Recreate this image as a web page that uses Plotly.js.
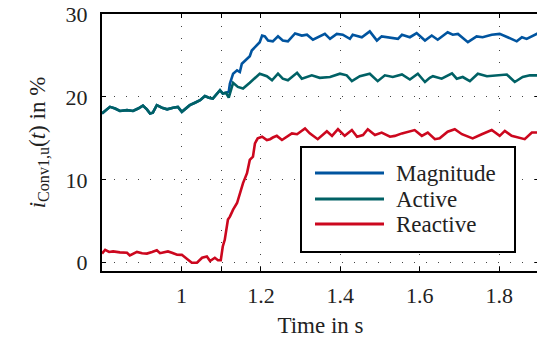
<!DOCTYPE html>
<html>
<head>
<meta charset="utf-8">
<script src="https://cdn.plot.ly/plotly-3.0.1.min.js"></script>
<style>
html,body{margin:0;padding:0;overflow:hidden;background:#fff;}
#chart{width:539px;height:338px;}
</style>
</head>
<body>
<div id="chart"></div>
<script>
// Magnitude (time in s, value in %)
const tMag = [0.800,0.805,0.820,0.833,0.845,0.863,0.878,0.891,0.903,0.913,0.921,0.928,0.938,0.951,0.964,0.979,0.991,1.001,1.011,1.021,1.034,1.047,1.059,1.069,1.079,1.089,1.097,1.104,1.112,1.119,
  1.122,1.130,1.140,1.147,1.152,1.165,1.172,1.177,1.190,1.197,1.203,1.210,1.218,1.230,1.243,1.255,1.268,1.286,1.303,1.316,1.331,1.343,1.361,1.374,1.391,1.406,1.424,1.431,1.454,1.474,1.492,1.504,1.525,1.545,1.555,1.575,1.592,1.613,1.630,1.645,1.670,1.683,1.696,1.721,1.743,1.758,1.781,1.801,1.821,1.844,1.857,1.869,1.894,1.899];
const vMag = [18.0,18.2,18.8,18.6,18.3,18.4,18.3,18.6,18.95,18.5,18.0,18.1,19.0,18.7,18.5,18.7,18.8,18.2,18.6,19.0,19.3,19.6,20.1,19.9,19.8,20.3,20.8,20.4,20.5,20.6,
  21.6,22.8,23.2,23.0,24.0,24.6,24.9,25.6,26.2,26.6,27.4,27.3,26.8,26.7,27.3,26.8,26.7,27.65,27.4,27.5,26.9,27.2,27.6,27.0,27.6,27.5,27.0,27.5,27.2,27.9,26.8,27.3,27.1,27.0,27.5,27.2,27.7,26.8,27.4,26.9,27.8,27.5,27.6,26.6,27.3,27.2,27.5,27.6,27.2,26.7,27.2,27.0,27.6,27.7];

// Active
const tAct = [0.800,0.805,0.820,0.833,0.845,0.863,0.878,0.891,0.903,0.913,0.921,0.928,0.938,0.951,0.964,0.979,0.991,1.001,1.011,1.021,1.034,1.047,1.059,1.069,1.079,1.089,1.097,1.104,1.112,1.119,1.130,1.142,1.155,1.172,1.185,1.197,1.215,1.228,1.243,1.255,1.268,1.291,1.303,1.316,1.328,1.348,1.374,1.399,1.416,1.429,1.449,1.474,1.494,1.512,1.532,1.555,1.575,1.595,1.613,1.625,1.633,1.655,1.681,1.693,1.708,1.726,1.746,1.769,1.794,1.819,1.839,1.859,1.877,1.899];
const vAct = [18.0,18.2,18.8,18.6,18.3,18.4,18.3,18.6,18.95,18.5,18.0,18.1,19.0,18.7,18.5,18.7,18.8,18.2,18.6,19.0,19.3,19.6,20.1,19.9,19.8,20.3,20.8,20.4,20.5,19.9,21.7,21.2,21.0,21.7,22.3,22.8,22.5,22.0,22.8,22.2,22.0,22.9,22.2,22.4,22.6,22.3,22.4,22.8,22.6,21.9,22.5,22.8,21.9,22.6,22.4,22.7,22.1,22.8,21.8,22.3,22.5,22.2,22.85,22.2,22.4,21.9,22.8,22.5,22.6,22.7,21.8,22.4,22.6,22.6];

// Reactive
const tRea = [0.800,0.808,0.818,0.828,0.845,0.863,0.870,0.878,0.888,0.901,0.913,0.926,0.938,0.946,0.956,0.966,0.976,0.989,1.001,1.014,1.026,1.039,1.052,1.064,1.072,1.084,1.092,1.099,1.104,1.109,1.117,1.122,1.130,1.140,1.147,1.155,1.165,1.172,1.180,1.185,1.192,1.203,1.215,1.223,1.230,1.240,1.253,1.265,1.278,1.291,1.311,1.323,1.343,1.366,1.379,1.394,1.411,1.429,1.442,1.457,1.469,1.487,1.504,1.525,1.537,1.555,1.587,1.605,1.620,1.638,1.650,1.670,1.688,1.706,1.733,1.756,1.781,1.801,1.814,1.831,1.864,1.882,1.899];
const vRea = [1.1,1.56,1.3,1.36,1.25,1.2,0.88,1.1,1.3,1.15,1.1,1.3,1.5,1.15,1.3,1.36,1.2,0.96,0.95,0.5,0.0,0.0,0.6,0.76,0.2,0.6,0.3,0.3,1.96,2.76,5.2,5.56,6.4,7.2,8.4,9.6,10.8,12.4,12.8,14.4,15.0,15.2,14.8,14.9,15.1,15.3,14.8,15.2,15.6,15.5,16.2,15.6,14.9,15.85,15.3,16.1,15.3,16.0,15.2,15.4,16.1,15.4,15.7,15.2,15.3,15.6,16.0,15.3,15.7,14.9,15.0,15.8,16.1,15.5,15.0,15.5,16.0,15.3,15.9,15.3,14.9,15.7,15.7];

const names = ["Magnitude","Active","Reactive"];
const colors = ["#00549F","#006165","#CC071E"];
const xTickVals = [1,1.2,1.4,1.6,1.8];
const xTickText = ["1","1.2","1.4","1.6","1.8"];
const xMinorVals = [1.1];
const yTickVals = [0,10,20,30];

const FONT = "Liberation Serif";
const TXT = "#222";
const FS = 23;
const FT = 22;
const series = [[tMag,vMag],[tAct,vAct],[tRea,vRea]];
const traces = series.map((s,i)=>({
  x: s[0], y: s[1], name: names[i], type: "scatter", mode: "lines",
  line: {color: colors[i], width: 2.6}, showlegend: false
}));

// legend drawn in paper coordinates (plot area: x 102..539, y 14..271)
const px = v => (v - 102) / 437;
const py = v => (271 - v) / 257;
const shapes = [{
  type: "rect", xref: "paper", yref: "paper",
  x0: px(301), x1: px(515), y0: py(252), y1: py(147),
  fillcolor: "#fff", line: {color: "#000", width: 2}, layer: "above"
}];
const annotations = [];
const rowY = [173, 199, 224];
names.forEach((n,i)=>{
  shapes.push({type: "line", xref: "paper", yref: "paper",
    x0: px(315), x1: px(384), y0: py(rowY[i]), y1: py(rowY[i]),
    line: {color: colors[i], width: 3.2}, layer: "above"});
  annotations.push({xref: "paper", yref: "paper", x: px(394), y: py(rowY[i]),
    xanchor: "left", yanchor: "middle", text: n, showarrow: false,
    font: {family: FONT, size: FS, color: TXT}});
});

const axisCommon = {
  showline: true, linecolor: "#000", linewidth: 2, mirror: "ticks",
  ticks: "inside", ticklen: 4, tickcolor: "#000", tickwidth: 1,
  showgrid: true, gridcolor: "#444", gridwidth: 1, griddash: "1px,11px",
  zeroline: false, tickfont: {family: FONT, size: FT, color: TXT}
};

const layout = {
  width: 539, height: 338,
  margin: {l: 102, r: 0, t: 14, b: 67},
  paper_bgcolor: "#fff", plot_bgcolor: "#fff",
  font: {family: FONT, size: FS, color: TXT},
  showlegend: false,
  shapes: shapes,
  annotations: annotations,
  xaxis: Object.assign({}, axisCommon, {
    range: [0.8, 1.9], tickvals: xTickVals, ticktext: xTickText,
    minor: {tickvals: xMinorVals, ticks: "inside", ticklen: 4, tickcolor: "#000", tickwidth: 1,
            showgrid: true, gridcolor: "#444", gridwidth: 1, griddash: "1px,11px"},
    ticklabelstandoff: 4,
    title: {text: "Time in s", font: {family: FONT, size: FS, color: TXT}, standoff: 9}
  }),
  yaxis: Object.assign({}, axisCommon, {
    range: [-1, 30], tickvals: yTickVals,
    ticklabelstandoff: 8,
    title: {text: "<i>i</i><sub>Conv1,u</sub>(<i>t</i>) in %", font: {family: FONT, size: FS, color: TXT}, standoff: 14}
  })
};

Plotly.newPlot("chart", traces, layout, {displayModeBar: false, staticPlot: true});
</script>
</body>
</html>
